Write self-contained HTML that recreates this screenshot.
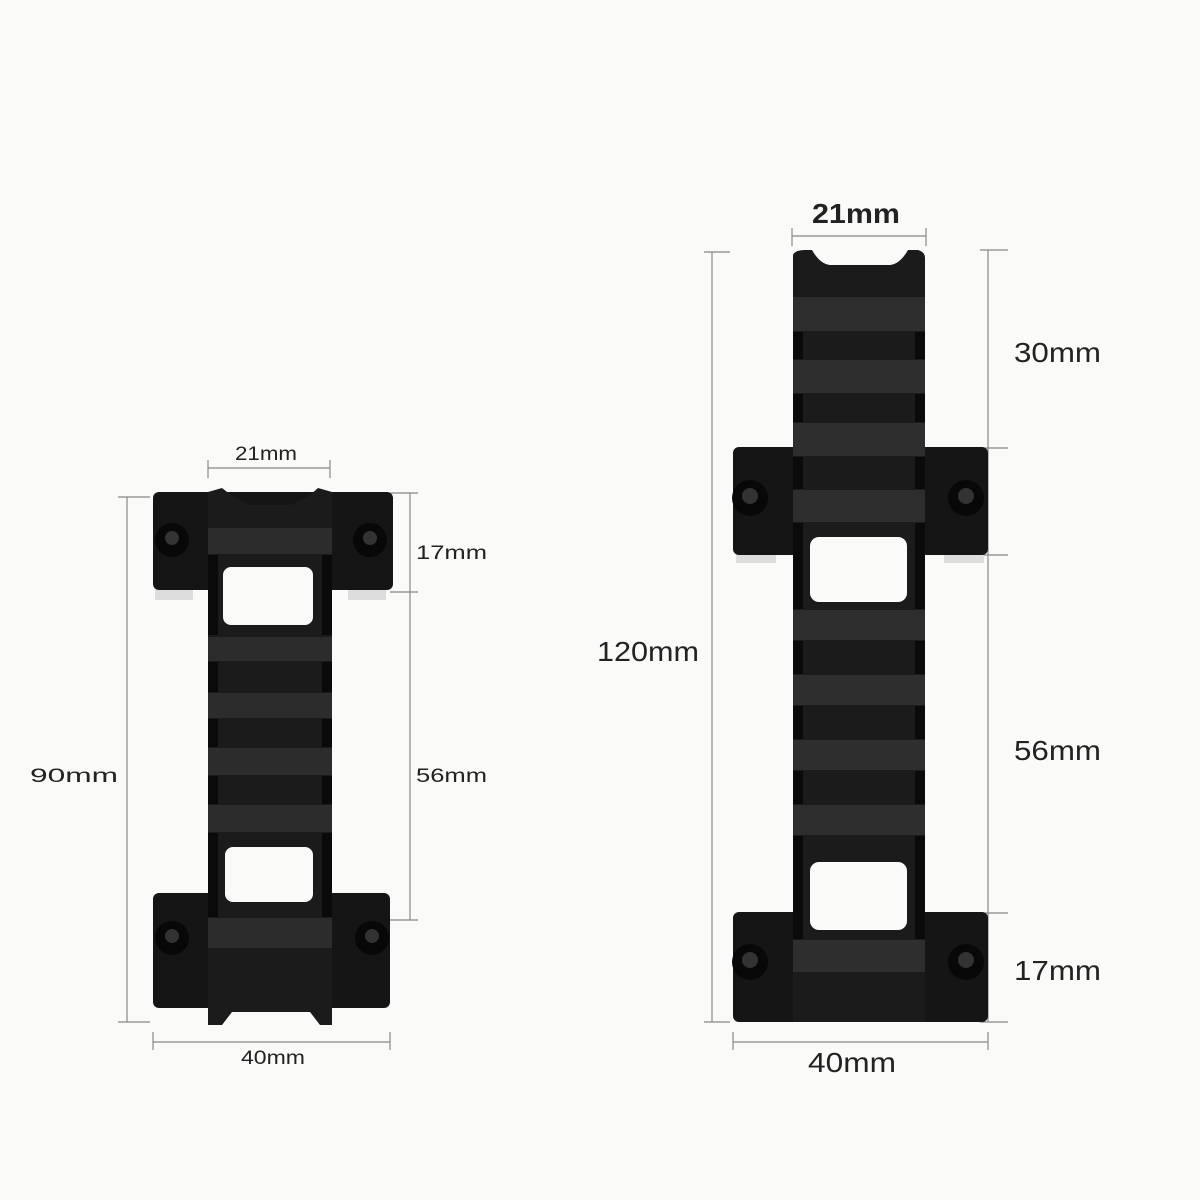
<!DOCTYPE html>
<html><head><meta charset="utf-8"><style>
html,body{margin:0;padding:0;background:#fafaf8;}
svg{display:block}
text{font-family:"Liberation Sans",sans-serif;fill:#222}
</style></head><body>
<svg width="1200" height="1200" viewBox="0 0 1200 1200">
<rect width="1200" height="1200" fill="#fafaf8"/>
<g stroke="#888" stroke-width="1.2" fill="none">
<line x1="208" y1="468" x2="330" y2="468"/><line x1="208" y1="460" x2="208" y2="478"/><line x1="330" y1="460" x2="330" y2="478"/>
<line x1="127" y1="497" x2="127" y2="1022"/><line x1="118" y1="497" x2="150" y2="497"/><line x1="118" y1="1022" x2="150" y2="1022"/>
<line x1="410" y1="493" x2="410" y2="920"/><line x1="390" y1="493" x2="418" y2="493"/><line x1="390" y1="592" x2="418" y2="592"/><line x1="330" y1="920" x2="418" y2="920"/>
<line x1="153" y1="1042" x2="390" y2="1042"/><line x1="153" y1="1032" x2="153" y2="1050"/><line x1="390" y1="1032" x2="390" y2="1050"/>
<line x1="792" y1="236" x2="926" y2="236"/><line x1="792" y1="228" x2="792" y2="246"/><line x1="926" y1="228" x2="926" y2="246"/>
<line x1="712" y1="252" x2="712" y2="1022"/><line x1="704" y1="252" x2="730" y2="252"/><line x1="704" y1="1022" x2="730" y2="1022"/>
<line x1="988" y1="250" x2="988" y2="1022"/><line x1="980" y1="250" x2="1008" y2="250"/><line x1="980" y1="448" x2="1008" y2="448"/><line x1="980" y1="555" x2="1008" y2="555"/><line x1="930" y1="913" x2="1008" y2="913"/><line x1="980" y1="1022" x2="1008" y2="1022"/>
<line x1="733" y1="1042" x2="988" y2="1042"/><line x1="733" y1="1032" x2="733" y2="1050"/><line x1="988" y1="1032" x2="988" y2="1050"/>
</g>
<text x="235" y="460" font-size="19" textLength="62" lengthAdjust="spacingAndGlyphs">21mm</text>
<text x="30" y="782" font-size="19" textLength="88" lengthAdjust="spacingAndGlyphs">90mm</text>
<text x="416" y="559" font-size="19" textLength="71" lengthAdjust="spacingAndGlyphs">17mm</text>
<text x="416" y="782" font-size="19" textLength="71" lengthAdjust="spacingAndGlyphs">56mm</text>
<text x="241" y="1064" font-size="19" textLength="64" lengthAdjust="spacingAndGlyphs">40mm</text>
<text x="812" y="223" font-size="28" font-weight="bold" fill="#222" textLength="88" lengthAdjust="spacingAndGlyphs">21mm</text>
<text x="597" y="661" font-size="28" textLength="102" lengthAdjust="spacingAndGlyphs">120mm</text>
<text x="1014" y="362" font-size="28" textLength="87" lengthAdjust="spacingAndGlyphs">30mm</text>
<text x="1014" y="760" font-size="28" textLength="87" lengthAdjust="spacingAndGlyphs">56mm</text>
<text x="1014" y="980" font-size="28" textLength="87" lengthAdjust="spacingAndGlyphs">17mm</text>
<text x="808" y="1072" font-size="28" textLength="88" lengthAdjust="spacingAndGlyphs">40mm</text>

<g>
<rect x="153" y="492" width="240" height="98" rx="6" fill="#151515"/>
<rect x="153" y="893" width="237" height="115" rx="6" fill="#151515"/>
<path d="M208 492 L222 488 Q236 500 250 505 L290 505 Q305 500 318 488 L332 492 L332 1025 L320 1025 L310 1012 L232 1012 L222 1025 L208 1025 Z" fill="#1b1b1b"/>
<g fill="#2c2c2c">
<rect x="208" y="528" width="124" height="26"/>
<rect x="208" y="637" width="124" height="24"/>
<rect x="208" y="693" width="124" height="25"/>
<rect x="208" y="748" width="124" height="27"/>
<rect x="208" y="805" width="124" height="27"/>
<rect x="208" y="918" width="124" height="30"/>
</g>
<g fill="#0a0a0a">
<rect x="208" y="555" width="10" height="80"/><rect x="322" y="555" width="10" height="80"/>
<rect x="208" y="662" width="10" height="30"/><rect x="322" y="662" width="10" height="30"/>
<rect x="208" y="719" width="10" height="28"/><rect x="322" y="719" width="10" height="28"/>
<rect x="208" y="776" width="10" height="28"/><rect x="322" y="776" width="10" height="28"/>
<rect x="208" y="833" width="10" height="84"/><rect x="322" y="833" width="10" height="84"/>
</g>
<rect x="223" y="567" width="90" height="58" rx="8" fill="#fafaf8"/>
<rect x="225" y="847" width="88" height="55" rx="8" fill="#fafaf8"/>
<circle cx="172" cy="540" r="17" fill="#080808"/><circle cx="172" cy="538" r="7" fill="#333"/>
<circle cx="370" cy="540" r="17" fill="#080808"/><circle cx="370" cy="538" r="7" fill="#333"/>
<circle cx="172" cy="938" r="17" fill="#080808"/><circle cx="172" cy="936" r="7" fill="#333"/>
<circle cx="372" cy="938" r="17" fill="#080808"/><circle cx="372" cy="936" r="7" fill="#333"/>
<rect x="155" y="590" width="38" height="10" fill="#ddd"/><rect x="348" y="590" width="38" height="10" fill="#ddd"/>
</g>

<g>
<rect x="733" y="447" width="255" height="108" rx="6" fill="#151515"/>
<rect x="733" y="912" width="255" height="110" rx="6" fill="#151515"/>
<path d="M793 255 Q795 250 805 250 L812 250 Q820 264 830 265 L890 265 Q900 264 908 250 L918 250 Q925 252 925 258 L925 1022 L793 1022 Z" fill="#1b1b1b"/>
<g fill="#2e2e2e">
<rect x="793" y="297" width="132" height="34"/>
<rect x="793" y="360" width="132" height="33"/>
<rect x="793" y="423" width="132" height="33"/>
<rect x="793" y="490" width="132" height="32"/>
<rect x="793" y="610" width="132" height="30"/>
<rect x="793" y="675" width="132" height="30"/>
<rect x="793" y="740" width="132" height="30"/>
<rect x="793" y="805" width="132" height="30"/>
<rect x="793" y="940" width="132" height="32"/>
</g>
<g fill="#0a0a0a">
<rect x="793" y="332" width="10" height="27"/><rect x="915" y="332" width="10" height="27"/>
<rect x="793" y="394" width="10" height="28"/><rect x="915" y="394" width="10" height="28"/>
<rect x="793" y="457" width="10" height="32"/><rect x="915" y="457" width="10" height="32"/>
<rect x="793" y="523" width="10" height="86"/><rect x="915" y="523" width="10" height="86"/>
<rect x="793" y="641" width="10" height="33"/><rect x="915" y="641" width="10" height="33"/>
<rect x="793" y="706" width="10" height="33"/><rect x="915" y="706" width="10" height="33"/>
<rect x="793" y="771" width="10" height="33"/><rect x="915" y="771" width="10" height="33"/>
<rect x="793" y="836" width="10" height="103"/><rect x="915" y="836" width="10" height="103"/>
</g>
<rect x="810" y="537" width="97" height="65" rx="9" fill="#fafaf8"/>
<rect x="810" y="862" width="97" height="68" rx="9" fill="#fafaf8"/>
<circle cx="750" cy="498" r="18" fill="#080808"/><circle cx="750" cy="496" r="8" fill="#333"/>
<circle cx="966" cy="498" r="18" fill="#080808"/><circle cx="966" cy="496" r="8" fill="#333"/>
<circle cx="750" cy="962" r="18" fill="#080808"/><circle cx="750" cy="960" r="8" fill="#333"/>
<circle cx="966" cy="962" r="18" fill="#080808"/><circle cx="966" cy="960" r="8" fill="#333"/>
<rect x="736" y="555" width="40" height="8" fill="#ddd"/><rect x="944" y="555" width="40" height="8" fill="#ddd"/>
</g>
</svg>
</body></html>
